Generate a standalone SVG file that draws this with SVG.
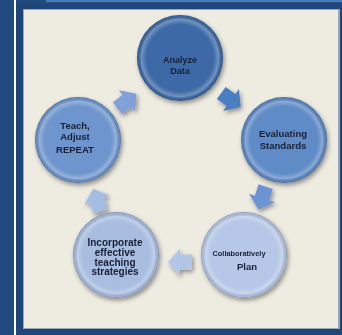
<svg xmlns="http://www.w3.org/2000/svg" xmlns:xlink="http://www.w3.org/1999/xlink" width="342" height="335" viewBox="0 0 342 335">
<style>
text{font-family:"Liberation Sans",Arial,sans-serif;font-weight:bold;fill:#1a1f36;text-anchor:middle}
.f9{font-size:9px}.f95{font-size:9.5px}.f10{font-size:10px}.f65{font-size:6.5px}
.rim{fill:url(#rim)}
</style>
<defs>
<radialGradient id="rim" cx="0.5" cy="0.5" r="0.5">
<stop offset="0" stop-color="#fff" stop-opacity="0"/>
<stop offset="0.78" stop-color="#fff" stop-opacity="0"/>
<stop offset="0.9" stop-color="#fff" stop-opacity="0.28"/>
<stop offset="0.97" stop-color="#000" stop-opacity="0.05"/>
<stop offset="1" stop-color="#000" stop-opacity="0.3"/>
</radialGradient>
<filter id="sh" x="-30%" y="-30%" width="160%" height="160%">
<feDropShadow dx="1.5" dy="2.5" stdDeviation="2" flood-color="#000" flood-opacity="0.4"/>
</filter>
<path id="arr" d="M-12,-7.5 H0 V-13.5 L12,0 L0,13.5 V7.5 H-12 Z"/>
</defs>
<rect width="342" height="335" fill="#214a7e"/>
<rect x="14" y="0" width="2" height="335" fill="#ffffff"/>
<rect x="46" y="0" width="296" height="2.5" fill="#4b79b8"/>
<rect x="16" y="2.5" width="326" height="332.5" fill="#1f4679"/>
<rect x="23" y="9" width="317" height="320" fill="#9aa6b6"/>
<rect x="24" y="10" width="314" height="318" fill="#eeebe1"/>
<g id="connectors" filter="url(#sh)">
<use xlink:href="#arr" transform="translate(127,101) rotate(-37)" fill="#7fa0d8"/>
<use xlink:href="#arr" transform="translate(231,100) rotate(36)" fill="#4a7ec2"/>
<use xlink:href="#arr" transform="translate(262,198) rotate(108)" fill="#6c93d2"/>
<use xlink:href="#arr" transform="translate(180,262) rotate(180)" fill="#b2c6e8"/>
<use xlink:href="#arr" transform="translate(97,200) rotate(-109)" fill="#a5bde3"/>
</g>
<g id="analyze">
<circle cx="180" cy="58" r="43" fill="#3e6ba6" filter="url(#sh)"/>
<circle cx="180" cy="58" r="43" class="rim"/>
<text class="f9" x="180" y="62.5">Analyze</text>
<text class="f9" x="180" y="74">Data</text>
</g>
<g id="evaluating">
<circle cx="284" cy="140" r="43" fill="#5e8bc7" filter="url(#sh)"/>
<circle cx="284" cy="140" r="43" class="rim"/>
<text class="f95" x="283" y="137">Evaluating</text>
<text class="f95" x="283" y="148.5">Standards</text>
</g>
<g id="collaboratively">
<circle cx="244" cy="255" r="43" fill="#b6c7e7" filter="url(#sh)"/>
<circle cx="244" cy="255" r="43" class="rim"/>
<text class="f65" x="239" y="256" textLength="53" lengthAdjust="spacingAndGlyphs">Collaboratively</text>
<text class="f95" x="247" y="270">Plan</text>
</g>
<g id="incorporate">
<circle cx="116" cy="255" r="43" fill="#a9bde1" filter="url(#sh)"/>
<circle cx="116" cy="255" r="43" class="rim"/>
<text class="f10" x="115" y="246">Incorporate</text>
<text class="f10" x="115" y="256">effective</text>
<text class="f10" x="115" y="265.5">teaching</text>
<text class="f10" x="115" y="275">strategies</text>
</g>
<g id="teach">
<circle cx="78" cy="140" r="43" fill="#6e95cd" filter="url(#sh)"/>
<circle cx="78" cy="140" r="43" class="rim"/>
<text class="f95" x="75" y="128.5">Teach,</text>
<text class="f95" x="75" y="140">Adjust</text>
<text class="f95" x="75" y="153">REPEAT</text>
</g>
</svg>
